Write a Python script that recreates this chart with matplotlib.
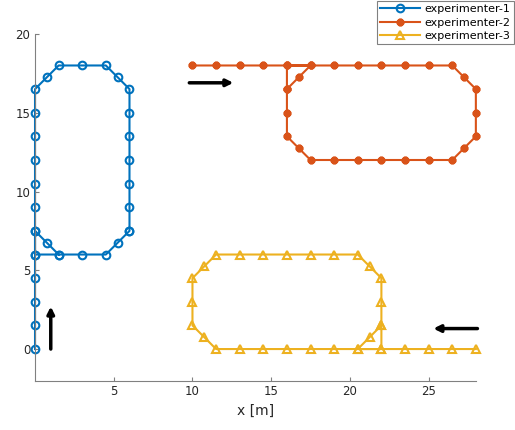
import matplotlib
matplotlib.use("Agg")
import matplotlib.pyplot as plt

# experimenter-1: straight up x=0, then rounded loop
exp1_x = [0, 0, 0, 0, 0, 0, 0, 0, 0, 0, 0, 0,
          0.75, 1.5, 3, 4.5, 5.25, 6, 6, 6, 6, 6, 6, 6, 6,
          5.25, 4.5, 3, 1.5, 0.75, 0, 0, 1.5]
exp1_y = [0, 1.5, 3, 4.5, 6, 7.5, 9, 10.5, 12, 13.5, 15, 16.5,
          17.25, 18, 18, 18, 17.25, 16.5, 15, 13.5, 12, 10.5, 9, 7.5, 7.5,
          6.75, 6, 6, 6, 6.75, 7.5, 6, 6]

# experimenter-2: straight right along y=18, then rounded loop
exp2_x = [10, 11.5, 13, 14.5, 16, 17.5, 19, 20.5, 22, 23.5, 25, 26.5,
          27.25, 28, 28, 28, 27.25, 26.5, 25, 23.5, 22, 20.5, 19, 17.5,
          16.75, 16, 16, 16, 16.75, 17.5, 16, 16]
exp2_y = [18, 18, 18, 18, 18, 18, 18, 18, 18, 18, 18, 18,
          17.25, 16.5, 15, 13.5, 12.75, 12, 12, 12, 12, 12, 12, 12,
          12.75, 13.5, 15, 16.5, 17.25, 18, 18, 16.5]

# experimenter-3: straight left along y=0, then rounded loop
exp3_x = [28, 26.5, 25, 23.5, 22, 20.5, 19, 17.5, 16, 14.5, 13, 11.5,
          10.75, 10, 10, 10, 10.75, 11.5, 13, 14.5, 16, 17.5, 19, 20.5,
          21.25, 22, 22, 22, 21.25, 20.5, 22, 22]
exp3_y = [0, 0, 0, 0, 0, 0, 0, 0, 0, 0, 0, 0,
          0.75, 1.5, 3, 4.5, 5.25, 6, 6, 6, 6, 6, 6, 6,
          5.25, 4.5, 3, 1.5, 0.75, 0, 0, 1.5]

# direction arrows (start, end)
arrows = [((1, 0), (1, 2.7)),
          ((9.8, 16.9), (12.6, 16.9)),
          ((28.1, 1.3), (25.3, 1.3))]

labels = ['experimenter-1', 'experimenter-2', 'experimenter-3']
colors = ['#0072BD', '#D95319', '#EDB120']

fig = plt.figure(figsize=(5.15, 4.3), dpi=100)
ax = fig.add_axes([0.068, 0.115, 0.856, 0.806])

ax.plot(exp1_x, exp1_y, color=colors[0], lw=1.5, marker='o', ms=5.5,
        mfc='none', mew=1.5, label=labels[0], clip_on=False)
ax.plot(exp2_x, exp2_y, color=colors[1], lw=1.5, marker=(8, 2, 0), ms=5.5,
        mew=2, label=labels[1], clip_on=False)
ax.plot(exp3_x, exp3_y, color=colors[2], lw=1.5, marker='^', ms=6,
        mfc='none', mew=1.5, label=labels[2], clip_on=False)

for (x0, y0), (x1, y1) in arrows:
    ax.annotate('', xy=(x1, y1), xytext=(x0, y0),
                arrowprops=dict(arrowstyle='-|>', color='black', lw=2.5,
                                mutation_scale=10, shrinkA=0, shrinkB=0))

ax.set_xlim(0, 28)
ax.set_ylim(-2, 20)
ax.set_xticks([5, 10, 15, 20, 25])
ax.set_yticks([0, 5, 10, 15, 20])
ax.spines['top'].set_visible(False)
ax.spines['right'].set_visible(False)
for s in ['left', 'bottom']:
    ax.spines[s].set_color('#808080')
    ax.spines[s].set_linewidth(0.8)
ax.tick_params(direction='in', length=3, width=0.8, color='#808080',
               labelsize=8.5, labelcolor='#262626')
ax.set_xlabel('x [m]', fontsize=10, color='#262626')

leg = fig.legend(loc='upper right', bbox_to_anchor=(0.998, 0.998),
                 fontsize=8, handlelength=3.6, borderaxespad=0,
                 fancybox=False, edgecolor='#808080', framealpha=1,
                 labelspacing=0.3, handletextpad=0.4, borderpad=0.3)
leg.get_frame().set_linewidth(0.8)

fig.savefig('out.png', dpi=100)
